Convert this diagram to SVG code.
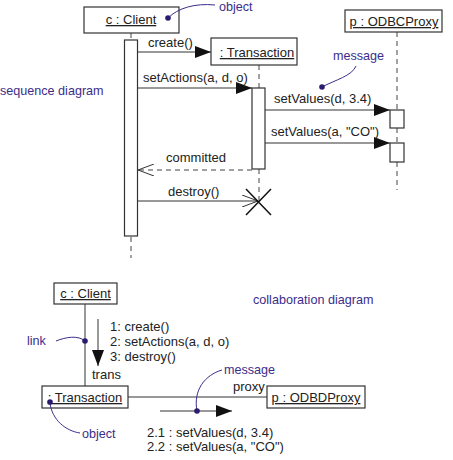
<svg xmlns="http://www.w3.org/2000/svg" width="453" height="460" viewBox="0 0 453 460">
<style>
text{font-family:"Liberation Sans",Arial,sans-serif;font-size:13px;fill:#222}
.lbl{fill:#3b2d8c;font-size:12.6px}
.box{fill:#fff;stroke:#333;stroke-width:1.2}
.life{stroke:#444;stroke-width:1;stroke-dasharray:5,4;fill:none}
.ln{stroke:#333;stroke-width:1;fill:none}
.note{stroke:#3b2d8c;stroke-width:1;fill:none}
.dot{fill:#2b1a6e}
.u{text-decoration:underline}
</style>
<defs>
<marker id="fill" viewBox="0 0 16 12" refX="16" refY="6" markerWidth="16" markerHeight="12" markerUnits="userSpaceOnUse" orient="auto"><path d="M0,0L16,6L0,12z" fill="#111"/></marker>
<marker id="open" viewBox="0 0 16 12" refX="16" refY="6" markerWidth="16" markerHeight="12" markerUnits="userSpaceOnUse" orient="auto"><path d="M0,0L16,6L0,12" fill="none" stroke="#333" stroke-width="1"/></marker>
</defs>
<rect width="453" height="460" fill="#fff"/>

<g id="connectors">
<line class="life" x1="131" y1="33" x2="131" y2="40"/>
<line class="life" x1="131" y1="237" x2="131" y2="258"/>
<line class="life" x1="259" y1="65" x2="259" y2="88"/>
<line class="life" x1="259" y1="169" x2="259" y2="202"/>
<line class="life" x1="397" y1="32" x2="397" y2="110"/>
<line class="life" x1="397" y1="128" x2="397" y2="143"/>
<line class="life" x1="397" y1="162" x2="397" y2="190"/>
<line class="ln" x1="138" y1="52" x2="211" y2="52" marker-end="url(#fill)"/>
<line class="ln" x1="138" y1="88" x2="252" y2="88" marker-end="url(#fill)"/>
<line class="ln" x1="265" y1="110" x2="390" y2="110" marker-end="url(#fill)"/>
<line class="ln" x1="265" y1="143" x2="390" y2="143" marker-end="url(#fill)"/>
<line class="life" x1="252" y1="170" x2="138" y2="170" marker-end="url(#open)"/>
<line class="ln" x1="138" y1="201" x2="258" y2="201" marker-end="url(#open)"/>
<path d="M246,189L271,215M271,189L246,215" stroke="#111" stroke-width="1.5" fill="none"/>
<line class="ln" x1="85" y1="304" x2="85" y2="386"/>
<line class="ln" x1="98" y1="319" x2="98" y2="366" stroke-width="1.5" marker-end="url(#fill)"/>
<line class="ln" x1="128" y1="397" x2="267" y2="397"/>
<line class="ln" x1="160" y1="411" x2="232" y2="411" stroke-width="1.5" marker-end="url(#fill)"/>
</g>

<g id="client">
<rect class="box" x="84" y="7" width="95" height="26"/>
<text x="131" y="24" text-anchor="middle" class="u">c : Client</text>
<rect class="box" x="124.5" y="40" width="13" height="196"/>
</g>
<g id="transaction">
<rect class="box" x="211" y="38" width="86" height="27"/>
<text x="257" y="57" text-anchor="middle" class="u">: Transaction</text>
<rect class="box" x="252" y="88" width="13" height="81"/>
</g>
<g id="odbcproxy">
<rect class="box" x="345" y="10" width="97" height="22"/>
<text x="394" y="26" text-anchor="middle" class="u">p : ODBCProxy</text>
<rect class="box" x="390" y="110" width="14" height="18"/>
<rect class="box" x="390" y="143" width="14" height="19"/>
</g>

<g id="seq-labels">
<text x="148" y="47">create()</text>
<text x="143" y="82">setActions(a, d, o)</text>
<text x="274" y="103">setValues(d, 3.4)</text>
<text x="271" y="136">setValues(a, "CO")</text>
<text x="166" y="162">committed</text>
<text x="168" y="196">destroy()</text>
</g>

<g id="seq-notes">
<text class="lbl" x="0" y="95">sequence diagram</text>
<text class="lbl" x="219" y="11">object</text>
<path class="note" d="M168,18C178,8 195,3 215,5"/>
<circle class="dot" cx="168" cy="18" r="2.8"/>
<text class="lbl" x="333" y="60">message</text>
<path class="note" d="M322,87C335,80 352,76 356,66"/>
<circle class="dot" cx="322" cy="87" r="2.8"/>
</g>

<g id="client2">
<rect class="box" x="54" y="283" width="63" height="21"/>
<text x="85.5" y="298" text-anchor="middle" class="u">c : Client</text>
</g>
<g id="transaction2">
<rect class="box" x="42" y="386" width="86" height="22"/>
<text x="85" y="402" text-anchor="middle" class="u">: Transaction</text>
</g>
<g id="odbdproxy">
<rect class="box" x="267" y="386" width="98" height="22"/>
<text x="316" y="402" text-anchor="middle" class="u">p : ODBDProxy</text>
</g>

<g id="collab-labels">
<text x="110" y="331">1: create()</text>
<text x="110" y="346">2: setActions(a, d, o)</text>
<text x="110" y="361">3: destroy()</text>
<text x="92" y="379">trans</text>
<text x="233" y="391">proxy</text>
<text x="147" y="437">2.1 : setValues(d, 3.4)</text>
<text x="147" y="451">2.2 : setValues(a, "CO")</text>
</g>

<g id="collab-notes">
<text class="lbl" x="253" y="304">collaboration diagram</text>
<text class="lbl" x="27" y="345">link</text>
<path class="note" d="M56,341C66,337 78,335 85,341"/>
<circle class="dot" cx="85" cy="341" r="2.8"/>
<text class="lbl" x="82" y="438">object</text>
<path class="note" d="M80,433C66,431 52,420 50,403"/>
<circle class="dot" cx="50" cy="402" r="2.8"/>
<text class="lbl" x="224" y="374">message</text>
<path class="note" d="M197,411C193,390 205,375 222,370"/>
<circle class="dot" cx="197" cy="411" r="2.8"/>
</g>
</svg>
